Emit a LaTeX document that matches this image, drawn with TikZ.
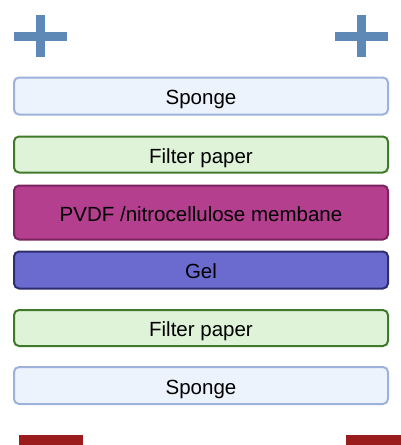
\documentclass[tikz,border=0pt]{standalone}
\usepackage{fontspec}
\setmainfont{Liberation Sans}
\definecolor{spfill}{HTML}{EDF3FC}
\definecolor{spdraw}{HTML}{9DB2DB}
\definecolor{fpfill}{HTML}{DFF3D9}
\definecolor{fpdraw}{HTML}{3F7A2A}
\definecolor{pvfill}{HTML}{B43F8F}
\definecolor{pvdraw}{HTML}{7A2360}
\definecolor{gelfill}{HTML}{6B6BCF}
\definecolor{geldraw}{HTML}{2E2D6E}
\definecolor{plusc}{HTML}{5E88B5}
\definecolor{minusc}{HTML}{9A1C1C}
\tikzset{
  layer/.style={rounded corners=5pt, line width=2pt, minimum width=374pt, inner sep=0pt,
    text height=17.5pt, text depth=0pt, font=\fontsize{20.5}{24}\selectfont, text=black},
  sponge/.style={layer, fill=spfill, draw=spdraw, minimum height=37pt},
  filterp/.style={layer, fill=fpfill, draw=fpdraw, minimum height=36pt},
  pvdf/.style={layer, fill=pvfill, draw=pvdraw, minimum height=54pt},
  gel/.style={layer, fill=gelfill, draw=geldraw, minimum height=37pt},
}
\begin{document}
\begin{tikzpicture}[x=1pt,y=-1pt]
\useasboundingbox (0,0) rectangle (401,445);
% plus signs
\fill[plusc] (14,32) rectangle (67,41);
\fill[plusc] (36,15) rectangle (45,57);
\fill[plusc] (335,32) rectangle (388,41);
\fill[plusc] (357,15) rectangle (366,57);
% minus bars
\fill[minusc] (19,435) rectangle (83,445);
\fill[minusc] (346,435) rectangle (401,445);
% layers
\node[sponge] (s1) at (201,96) {Sponge};
\node[filterp] (f1) at (201,154.5) {Filter paper};
\node[pvdf] (pv) at (201,212.5) {PVDF /nitrocellulose membane};
\node[gel] (g) at (201,270) {Gel};
\node[filterp] (f2) at (201,328) {Filter paper};
\node[sponge] (s2) at (201,385.5) {Sponge};
\end{tikzpicture}
\end{document}
